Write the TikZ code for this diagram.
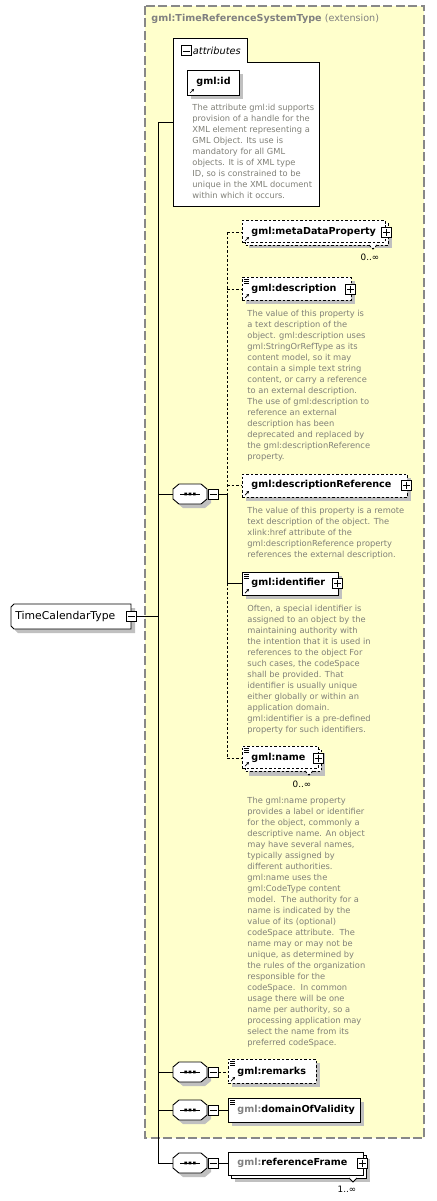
\documentclass[tikz,border=0pt]{standalone}
\usepackage{fontspec}
\setmainfont{DejaVu Sans}
\usetikzlibrary{arrows.meta,shadows,calc}
\definecolor{bgy}{RGB}{255,255,204}
\definecolor{frm}{RGB}{136,136,136}
\definecolor{anncol}{RGB}{128,128,120}
\definecolor{shd}{RGB}{192,192,192}
\definecolor{gry}{RGB}{128,128,128}

\newcommand\mkminus[3]{%
  \node[sq] (#1) at (#2,#3) {};
  \draw[line width=0.8pt] ([xshift=2pt]#1.west) -- ([xshift=-2pt]#1.east);}
\newcommand\mkplus[3]{%
  \node[sq] (#1) at (#2,#3) {};
  \draw[line width=0.8pt] ([xshift=2pt]#1.west) -- ([xshift=-2pt]#1.east)
    ([yshift=-2pt]#1.north) -- ([yshift=2pt]#1.south);}
\newcommand\refarrow[2]{%
  \draw[line width=0.7pt,-{Triangle[length=2.4pt,width=2.6pt]}] (#1,#2) -- ++(4,-4);}
\newcommand\annicon[2]{%
  \draw[line width=0.6pt] (#1,#2) -- ++(5,0) (#1,#2+2.2) -- ++(5,0) (#1,#2+4.4) -- ++(5,0);}
\newcommand\seqsym[3]{%
  \begin{scope}[shift={(#2,#3)}]
    \fill[shd] (-7,-6) -- (15,-6) -- (21,-1) -- (21,9) -- (15,14) -- (-7,14) -- (-13,9) -- (-13,-1) -- cycle;
    \draw[fill=white] (-11,-10) -- (11,-10) -- (17,-5) -- (17,5) -- (11,10) -- (-11,10) -- (-17,5) -- (-17,-5) -- cycle;
    \draw (-10,0) -- (10,0);
    \fill (-5.6,-1.4) rectangle (-3,1.4) (-1.3,-1.4) rectangle (1.3,1.4) (3,-1.4) rectangle (5.6,1.4);
  \end{scope}
  \node[minimum width=34pt,minimum height=20pt,inner sep=0pt] (#1) at (#2,#3) {};
  \mkminus{#1m}{#2+23}{#3}}

\begin{document}
\begin{tikzpicture}[x=1pt,y=-1pt,line width=0.9pt,
  dsh/.style={dash pattern=on 2.5pt off 2pt},
  shadowed/.style={drop shadow={shadow xshift=4pt,shadow yshift=-4pt,fill=shd,opacity=1}},
  elem/.style={draw=black,fill=white,anchor=north west,inner sep=0pt},
  lbl/.style={anchor=west,inner sep=0pt,font=\fontsize{9.6}{10}\selectfont\bfseries},
  annot/.style={anchor=north west,inner sep=0pt,align=left,text=anncol,font=\fontsize{8.3}{11}\selectfont},
  mult/.style={inner sep=0pt,font=\fontsize{8.8}{10}\selectfont},
  sq/.style={draw=black,fill=white,minimum size=10pt,inner sep=0pt,line width=1pt},
]
\useasboundingbox (0,0) rectangle (436,1201);

% extension frame
\draw[frm,dash pattern=on 9pt off 3.5pt,line width=1.1pt,fill=bgy] (145,6) rectangle (424,1138);
\node[anchor=west,inner sep=0pt,text=gry,font=\fontsize{9.6}{10}\selectfont] (ttl) at (151,19)
  {\bfseries gml:TimeReferenceSystemType\mdseries\ (extension)};

% main connectors
\coordinate (mtop) at (158,122);
\coordinate (mbot) at (158,1163);
\coordinate (jt) at (158,616);
\coordinate (ja) at (173,122);
\draw (mtop) -- (mbot);
\draw (mtop) -- (ja);

% root type
\fill[shd] (18,608) -- (135,608) -- (135,633) -- (18,633) -- (15,630) -- (15,611) -- cycle;
\draw[fill=white] (14,604) -- (131,604) -- (131,629) -- (14,629) -- (11,626) -- (11,607) -- cycle;
\node[minimum width=120pt,minimum height=25pt,inner sep=0pt] (tct) at (71,616.5) {};
\node[anchor=west,inner sep=0pt,font=\fontsize{10.8}{12}\selectfont] (tctl) at (15,616.5) {TimeCalendarType};
\mkminus{tctm}{131}{616}
\draw (tctm.east) -- (jt);

% attributes group
\draw[fill=white] (173,38) -- (247,38) -- (247,62) -- (319,62) -- (319,206) -- (173,206) -- cycle;
\mkminus{attm}{186}{51}
\node[anchor=west,inner sep=0pt,font=\fontsize{9.8}{10}\selectfont\itshape] (attl) at (192.5,51) {attributes};
\node[elem,shadowed,minimum width=52pt,minimum height=25pt] (gid) at (187,70) {};
\node[lbl] (gidl) at (196,82) {gml:id};
\refarrow{190}{93}
\node[annot] (gida) at (192,103.5) {The attribute gml:id supports\\provision of a handle for the\\XML element representing a\\GML Object. Its use is\\mandatory for all GML\\objects. It is of XML type\\ID, so is constrained to be\\unique in the XML document\\within which it occurs.};

% sequence 1
\coordinate (j1) at (158,494);
\seqsym{seqa}{190}{494}
\draw (j1) -- (seqa.west);
\coordinate (va) at (227,232);
\coordinate (vb) at (227,289);
\coordinate (vc) at (227,485);
\coordinate (vs) at (227,494);
\coordinate (vd) at (227,583);
\coordinate (ve) at (227,758);
\draw (seqam.east) -- (vs);
\draw[dsh] (va) -- (vs);
\draw (vs) -- (vd);
\draw[dsh] (vd) -- (ve);

% metaDataProperty
\fill[shd] (249,227) rectangle (392,248);
\draw[dsh,fill=white] (245,223) rectangle (388,245);
\draw[dsh,fill=white] (369,245) -- (373,249) -- (377,245);
\node[elem,dsh,minimum width=143pt,minimum height=22pt] (mdp) at (242,220) {};
\node[lbl] (mdpl) at (251,232) {gml:metaDataProperty};
\refarrow{245}{241}
\mkplus{mdpp}{386.5}{232}
\node[mult] (mdpm) at (370,257) {0..∞};
\draw[dsh] (va) -- (mdp.west |- va);

% description
\node[elem,dsh,shadowed,minimum width=109pt,minimum height=23pt] (desc) at (242,277) {};
\annicon{244}{279}
\refarrow{245}{298}
\node[lbl] (descl) at (251,289) {gml:description};
\mkplus{descp}{350.5}{289}
\draw[dsh] (vb) -- (desc.west |- vb);
\node[annot] (desca) at (247,309.5) {The value of this property is\\a text description of the\\object. gml:description uses\\gml:StringOrRefType as its\\content model, so it may\\contain a simple text string\\content, or carry a reference\\to an external description.\\The use of gml:description to\\reference an external\\description has been\\deprecated and replaced by\\the gml:descriptionReference\\property.};

% descriptionReference
\node[elem,dsh,shadowed,minimum width=165pt,minimum height=23pt] (dref) at (242,474) {};
\refarrow{245}{495}
\node[lbl] (drefl) at (251,485) {gml:descriptionReference};
\mkplus{drefp}{406.5}{485}
\draw[dsh] (vc) -- (dref.west |- vc);
\node[annot] (drefa) at (247,506.5) {The value of this property is a remote\\text description of the object. The\\xlink:href attribute of the\\gml:descriptionReference property\\references the external description.};

% identifier
\node[elem,shadowed,minimum width=96pt,minimum height=23pt] (ident) at (242,572) {};
\annicon{244}{574}
\refarrow{245}{593}
\node[lbl] (identl) at (251,583) {gml:identifier};
\mkplus{identp}{337.5}{583.5}
\draw (vd) -- (ident.west |- vd);
\node[annot] (identa) at (247,604.5) {Often, a special identifier is\\assigned to an object by the\\maintaining authority with\\the intention that it is used in\\references to the object For\\such cases, the codeSpace\\shall be provided. That\\identifier is usually unique\\either globally or within an\\application domain.\\gml:identifier is a pre-defined\\property for such identifiers.};

% name
\fill[shd] (249,753) rectangle (325,776);
\draw[dsh,fill=white] (245,749) rectangle (321,771);
\draw[dsh,fill=white] (305,771) -- (309,775) -- (313,771);
\node[elem,dsh,minimum width=76pt,minimum height=22pt] (name) at (242,746) {};
\annicon{244}{748}
\refarrow{245}{766}
\node[lbl] (namel) at (251,758) {gml:name};
\mkplus{namep}{318}{758}
\node[mult] (namem) at (302,784) {0..∞};
\draw[dsh] (ve) -- (name.west |- ve);
\node[annot] (namea) at (247,796.5) {The gml:name property\\provides a label or identifier\\for the object, commonly a\\descriptive name. An object\\may have several names,\\typically assigned by\\different authorities.\\gml:name uses the\\gml:CodeType content\\model.\ \ The authority for a\\name is indicated by the\\value of its (optional)\\codeSpace attribute.\ \ The\\name may or may not be\\unique, as determined by\\the rules of the organization\\responsible for the\\codeSpace.\ \ In common\\usage there will be one\\name per authority, so a\\processing application may\\select the name from its\\preferred codeSpace.};

% remarks
\coordinate (jr) at (158,1072);
\seqsym{seqr}{190}{1072}
\draw (jr) -- (seqr.west);
\node[elem,dsh,shadowed,minimum width=88pt,minimum height=24pt] (rem) at (228,1059) {};
\annicon{230}{1061}
\refarrow{231}{1081}
\node[lbl] (reml) at (237,1072) {gml:remarks};
\draw[dsh] (seqrm.east) -- (rem.west |- seqrm.east);

% domainOfValidity
\coordinate (jd) at (158,1110);
\seqsym{seqd}{190}{1110}
\draw (jd) -- (seqd.west);
\node[elem,shadowed,minimum width=132pt,minimum height=24pt] (dov) at (228,1098) {};
\annicon{230}{1100}
\node[lbl] (dovl) at (237,1110) {\textcolor{gry}{gml:}domainOfValidity};
\draw (seqdm.east) -- (dov.west |- seqdm.east);

% referenceFrame
\seqsym{seqf}{190}{1163}
\draw (mbot) -- (seqf.west);
\fill[shd] (235,1159) rectangle (370,1182);
\draw[fill=white] (231,1155) rectangle (366,1178);
\draw[fill=white] (349,1178) -- (353,1182) -- (357,1178);
\node[elem,minimum width=135pt,minimum height=23pt] (rf) at (228,1152) {};
\node[lbl] (rfl) at (237,1163) {\textcolor{gry}{gml:}referenceFrame};
\mkplus{rfp}{362.5}{1163}
\node[mult] (rfm) at (347,1189) {1..∞};
\draw (seqfm.east) -- (rf.west |- seqfm.east);
\end{tikzpicture}
\end{document}
